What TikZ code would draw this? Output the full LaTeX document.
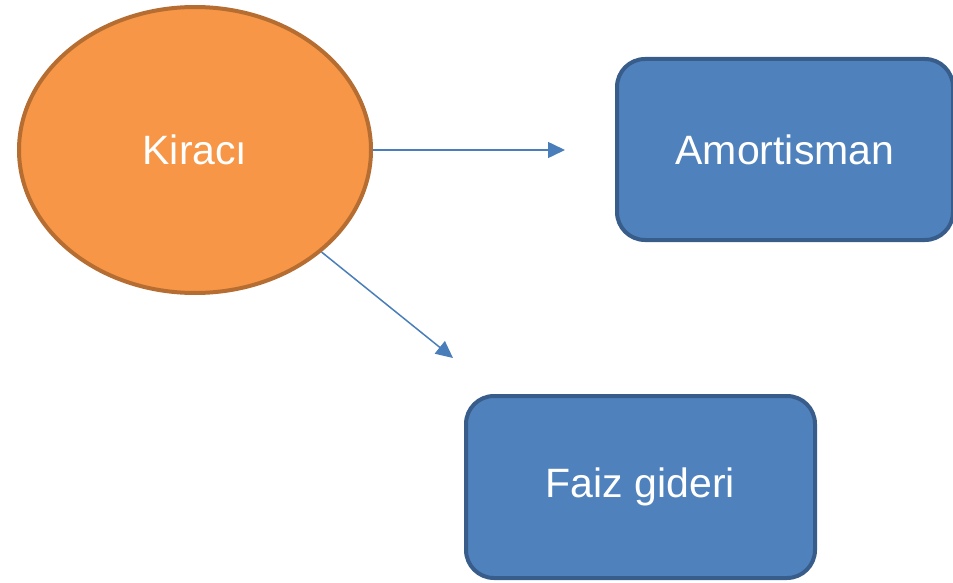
\documentclass[tikz,border=0pt]{standalone}
\usepackage{fontspec}
\setmainfont{Liberation Sans}
\usetikzlibrary{shapes.geometric,arrows.meta}
\definecolor{orfill}{HTML}{F79646}
\definecolor{ordraw}{HTML}{B66D31}
\definecolor{blfill}{HTML}{4F81BD}
\definecolor{bldraw}{HTML}{385D8A}
\definecolor{arrowcol}{HTML}{4A7EBB}
\tikzset{
  lbl/.style={text=white,font=\fontsize{41}{48}\selectfont},
  oval/.style={ellipse,draw=ordraw,fill=orfill,line width=4pt,inner sep=0pt,lbl},
  rbox/.style={rectangle,rounded corners=28pt,draw=bldraw,fill=blfill,line width=4pt,inner sep=0pt,lbl},
  conn/.style={draw=arrowcol,line width=1.5pt,-{Triangle[length=17pt,width=16pt]}}
}
\begin{document}
\begin{tikzpicture}[x=1pt,y=-1pt]
\useasboundingbox (0,0) rectangle (953,583);
\node[oval,minimum width=352pt,minimum height=286pt] (kir) at (195,150) {Kiracı};
\node[rbox,minimum width=336pt,minimum height=181pt] (amo) at (785,149.5) {Amortisman};
\node[rbox,minimum width=349pt,minimum height=182pt] (faiz) at (640.5,487) {Faiz gideri};
\coordinate (t1) at (565,150);
\coordinate (t2) at (453,358);
\draw[conn] (kir) -- (t1);
\draw[conn] (kir) -- (t2);
\end{tikzpicture}
\end{document}
